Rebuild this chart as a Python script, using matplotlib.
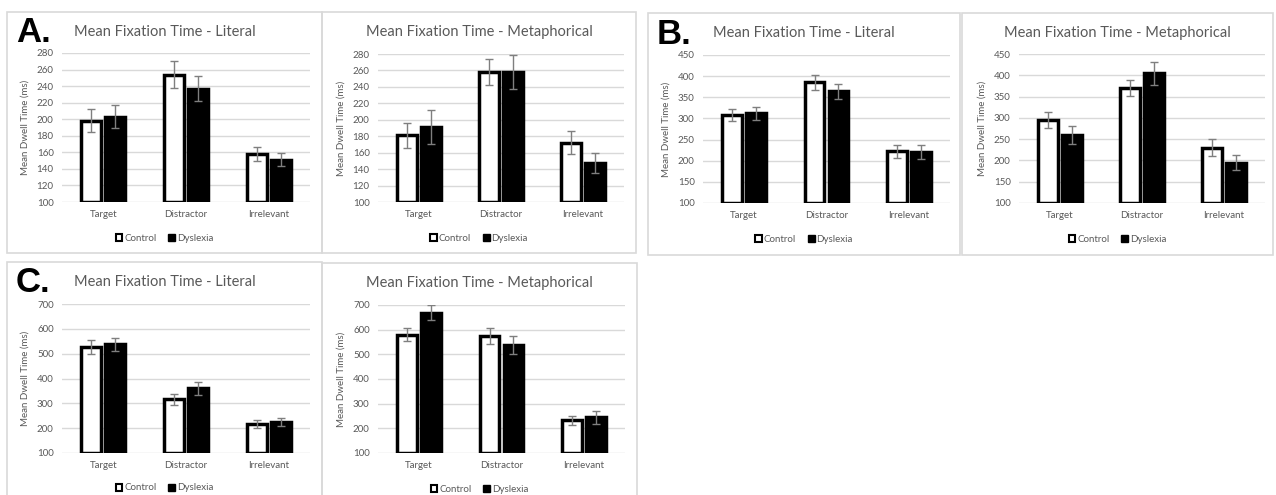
import matplotlib.pyplot as plt
from matplotlib.patches import Rectangle, Patch
import numpy as np

W, H = 1276, 495

categories = ["Target", "Distractor", "Irrelevant"]

a_lit_control = [198, 254, 158]
a_lit_control_err = [14, 16, 9]
a_lit_dyslexia = [203, 237, 151]
a_lit_dyslexia_err = [14, 15, 8]
a_met_control = [181, 258, 172]
a_met_control_err = [15, 16, 14]
a_met_dyslexia = [191, 258, 147]
a_met_dyslexia_err = [21, 21, 12]

b_lit_control = [309, 385, 222]
b_lit_control_err = [14, 17, 15]
b_lit_dyslexia = [312, 364, 220]
b_lit_dyslexia_err = [16, 18, 17]
b_met_control = [295, 371, 230]
b_met_control_err = [19, 19, 20]
b_met_dyslexia = [260, 405, 195]
b_met_dyslexia_err = [22, 27, 17]

c_lit_control = [527, 316, 218]
c_lit_control_err = [28, 22, 16]
c_lit_dyslexia = [538, 361, 225]
c_lit_dyslexia_err = [27, 26, 15]
c_met_control = [580, 574, 232]
c_met_control_err = [27, 33, 20]
c_met_dyslexia = [669, 537, 244]
c_met_dyslexia_err = [30, 37, 25]

a_ticks = list(range(100, 281, 20))
b_ticks = list(range(100, 451, 50))
c_ticks = list(range(100, 701, 100))

plt.rcParams["font.family"] = ["Lato", "DejaVu Sans"]
GREY_TXT = "#595959"
GRID = "#d9d9d9"

fig = plt.figure(figsize=(W / 100, H / 100), dpi=100)


def frac(x0, y0, x1, y1):
    # pixel box (top-left origin) -> figure fraction rect
    return [x0 / W, 1 - y1 / H, (x1 - x0) / W, (y1 - y0) / H]


def panel(box, plot, title, control, c_err, dys, d_err, ticks, letter=None):
    px0, py0, px1, py1 = box
    fig.patches.append(Rectangle((px0 / W, 1 - py1 / H), (px1 - px0) / W, (py1 - py0) / H,
                                 transform=fig.transFigure, fill=False,
                                 edgecolor=GRID, linewidth=1.2))
    ax = fig.add_axes(frac(*plot))
    x = np.arange(len(categories))
    bw = 0.24
    off = 0.145
    ymin = ticks[0]
    ax.bar(x - off, np.array(control) - ymin, bw, bottom=ymin, color="white",
           edgecolor="black", linewidth=2.5, zorder=3)
    ax.bar(x + off, np.array(dys) - ymin, bw, bottom=ymin, color="black",
           edgecolor="black", linewidth=2.5, zorder=3)
    ax.errorbar(x - off, control, yerr=c_err, fmt="none", ecolor="#7f7f7f",
                elinewidth=1, capsize=3, zorder=4)
    ax.errorbar(x + off, dys, yerr=d_err, fmt="none", ecolor="#7f7f7f",
                elinewidth=1, capsize=3, zorder=4)
    ax.set_xlim(-0.5, len(categories) - 0.5)
    ax.set_ylim(ticks[0], ticks[-1])
    ax.set_yticks(ticks)
    ax.set_xticks(x)
    ax.set_xticklabels(categories)
    ax.tick_params(length=0, labelsize=7, labelcolor=GREY_TXT, pad=6)
    ax.yaxis.grid(True, color=GRID, linewidth=1, zorder=0)
    ax.set_axisbelow(True)
    for s in ax.spines.values():
        s.set_visible(False)
    ax.set_ylabel("Mean Dwell Time (ms)", fontsize=7, color=GREY_TXT, labelpad=5)
    cx = (px0 + px1) / 2 / W
    fig.text(cx, 1 - (py0 + 20) / H, title, ha="center", va="center",
             fontsize=10.5, color=GREY_TXT)
    handles = [Patch(facecolor="white", edgecolor="black", linewidth=1.5, label="Control"),
               Patch(facecolor="black", edgecolor="black", label="Dyslexia")]
    fig.legend(handles=handles, loc="center", ncol=2,
               bbox_to_anchor=(cx, 1 - (py0 + 226) / H), frameon=False,
               fontsize=7, labelcolor=GREY_TXT, handlelength=0.7, handleheight=0.7,
               handletextpad=0.2, columnspacing=1.2)
    if letter:
        fig.text((px0 + 9) / W, 1 - (py0 + 21) / H, letter, ha="left", va="center",
                 fontsize=25, fontweight="bold", color="black",
                 family=["Liberation Sans", "DejaVu Sans"])
    return ax


panel((7, 12, 322, 253), (62, 53, 310, 202), "Mean Fixation Time - Literal",
      a_lit_control, a_lit_control_err, a_lit_dyslexia, a_lit_dyslexia_err, a_ticks, "A.")
panel((322, 12, 636, 253), (378, 54, 624, 202), "Mean Fixation Time - Metaphorical",
      a_met_control, a_met_control_err, a_met_dyslexia, a_met_dyslexia_err, a_ticks)
panel((648, 13, 960, 255), (703, 55, 950, 203), "Mean Fixation Time - Literal",
      b_lit_control, b_lit_control_err, b_lit_dyslexia, b_lit_dyslexia_err, b_ticks, "B.")
panel((962, 13, 1273, 255), (1019, 54, 1265, 203), "Mean Fixation Time - Metaphorical",
      b_met_control, b_met_control_err, b_met_dyslexia, b_met_dyslexia_err, b_ticks)
panel((7, 262, 322, 505), (62, 304, 310, 453), "Mean Fixation Time - Literal",
      c_lit_control, c_lit_control_err, c_lit_dyslexia, c_lit_dyslexia_err, c_ticks, "C.")
panel((322, 263, 637, 505), (378, 305, 625, 453), "Mean Fixation Time - Metaphorical",
      c_met_control, c_met_control_err, c_met_dyslexia, c_met_dyslexia_err, c_ticks)

fig.savefig("out.png", dpi=100)
